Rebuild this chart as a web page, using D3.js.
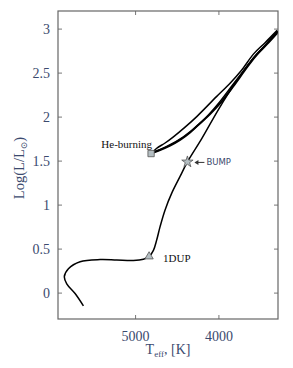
<!DOCTYPE html>
<html>
<head>
<meta charset="utf-8">
<script src="https://cdn.jsdelivr.net/npm/d3@7"></script>
<style>
	body { margin: 0; background: #fff; }
	svg { display: block; }
</style>
</head>
<body>
<div id="chart"></div>
<script>
// Evolutionary track in the HR diagram: [Teff (K), log(L/Lsun)]
var rgbTrack = [
	[5620, -0.15], [5720, -0.01], [5820, 0.10], [5849, 0.18], [5800, 0.27],
	[5660, 0.35], [5420, 0.375], [5220, 0.37], [5020, 0.365], [4900, 0.38],
	[4832, 0.41], [4780, 0.48], [4740, 0.60], [4700, 0.75], [4640, 0.94],
	[4560, 1.13], [4460, 1.32], [4372, 1.485], [4200, 1.75], [4000, 2.08],
	[3800, 2.38], [3600, 2.64], [3420, 2.83], [3290, 2.96]
];
	// descent from the tip to the clump
var flashTrack = [
	[3290, 2.97], [3430, 2.82], [3560, 2.69], [3700, 2.52], [3830, 2.36],
	[4000, 2.15], [4200, 1.94], [4420, 1.77], [4620, 1.66], [4790, 1.59]
];
	// early AGB, lower (thick) bundle
var agbLower = [
	[4790, 1.59], [4700, 1.62], [4580, 1.67], [4460, 1.735], [4340, 1.82],
	[4220, 1.925], [4100, 2.03], [3980, 2.15], [3825, 2.34], [3680, 2.53],
	[3560, 2.68], [3420, 2.82], [3295, 2.95]
];
	// upper loop
var agbUpper = [
	[4790, 1.59], [4740, 1.64], [4640, 1.70], [4540, 1.77], [4400, 1.88],
	[4260, 2.00], [4020, 2.23], [3860, 2.38], [3720, 2.53], [3580, 2.71],
	[3440, 2.84], [3295, 2.98]
];
var marks = [
	{ name: "1DUP", t: 4832, l: 0.41, shape: "triangle" },
	{ name: "BUMP", t: 4372, l: 1.485, shape: "star" },
	{ name: "He-burning", t: 4808, l: 1.58, shape: "square" }
];
var xTicks = [5000, 4000, 3000];
var yTicks = [0, 0.5, 1, 1.5, 2, 2.5, 3];
var xDomain = [5925, 3285];
var yDomain = [-0.3, 3.2];

var W = 293, H = 368;
var m = { l: 58, r: 15, t: 11, b: 49 };
var pw = W - m.l - m.r, ph = H - m.t - m.b;
var ink = "#3b4a6e";
var serif = "'Liberation Serif', 'DejaVu Serif', serif";

var svg = d3.select("#chart").append("svg")
	.attr("width", W).attr("height", H);
var g = svg.append("g")
	.attr("transform", "translate(" + m.l + "," + m.t + ")");

var x = d3.scaleLinear().domain(xDomain).range([0, pw]);
var y = d3.scaleLinear().domain(yDomain).range([ph, 0]);

	// Axes: ticks inward on all four sides
function styleAxis(sel) {
	sel.select(".domain").remove();
	sel.selectAll(".tick line").attr("stroke", "#777").attr("stroke-width", 1);
	sel.selectAll(".tick text").attr("fill", ink)
		.style("font-family", serif).style("font-size", "14px");
}
var xIn = xTicks.filter(function(v) { return v < xDomain[0] && v > xDomain[1]; });
g.append("g").attr("transform", "translate(0," + ph + ")")
	.call(d3.axisBottom(x).tickValues(xIn)
		.tickSizeInner(-4).tickSizeOuter(0).tickPadding(12).tickFormat(d3.format("d")))
	.call(styleAxis);
g.append("g")
	.call(d3.axisTop(x).tickValues(xIn)
		.tickSizeInner(-4).tickSizeOuter(0).tickFormat(""))
	.call(styleAxis);
g.append("g")
	.call(d3.axisLeft(y).tickValues(yTicks).tickSizeInner(-4).tickSizeOuter(0).tickPadding(8)
		.tickFormat(function(d) { return String(d); }))
	.call(styleAxis);
g.append("g").attr("transform", "translate(" + pw + ",0)")
	.call(d3.axisRight(y).tickValues(yTicks).tickSizeInner(-4).tickSizeOuter(0).tickFormat(""))
	.call(styleAxis);

	// Frame
g.append("rect").attr("width", pw).attr("height", ph)
	.attr("fill", "none").attr("stroke", "#666").attr("stroke-width", 1.2);

	// Track
svg.append("clipPath").attr("id", "plotclip")
	.append("rect").attr("width", pw).attr("height", ph);
var line = d3.line()
	.x(function(d) { return x(d[0]); })
	.y(function(d) { return y(d[1]); })
	.curve(d3.curveCatmullRom.alpha(0.5));
var tracks = g.append("g").attr("clip-path", "url(#plotclip)");
[rgbTrack, flashTrack, agbLower, agbUpper].forEach(function(tr, i) {
	tracks.append("path").datum(tr)
		.attr("d", line)
		.attr("fill", "none")
		.attr("stroke", "#000")
		.attr("stroke-width", i === 2 ? 2 : 1.5)
		.attr("stroke-linejoin", "round");
});

	// Markers
var symType = { triangle: d3.symbolTriangle, star: d3.symbolStar, square: d3.symbolSquare };
var symSize = { triangle: 30, star: 40, square: 40 };
g.selectAll(".mark").data(marks).enter().append("path")
	.attr("class", "mark")
	.attr("transform", function(d) { return "translate(" + x(d.t) + "," + y(d.l) + ")"; })
	.attr("d", function(d) { return d3.symbol().type(symType[d.shape]).size(symSize[d.shape])(); })
	.attr("fill", "#b4bec2")
	.attr("stroke", "#555")
	.attr("stroke-width", 0.8);

	// Labels
var dup = marks[0], bump = marks[1], heb = marks[2];
g.append("text").attr("x", x(dup.t) + 14).attr("y", y(dup.l) + 5)
	.style("font-family", serif).style("font-size", "11px").attr("fill", "#111")
	.text("1DUP");
g.append("text").attr("x", x(heb.t) + 1).attr("y", y(heb.l) - 6)
	.attr("text-anchor", "end")
	.style("font-family", serif).style("font-size", "11px").attr("fill", "#111")
	.text("He-burning");
g.append("text").attr("x", x(bump.t) + 19).attr("y", y(bump.l) + 3.5)
	.style("font-family", "'DejaVu Sans', sans-serif").style("font-size", "8.5px").attr("fill", ink)
	.text("BUMP");
	// arrow pointing at the bump
var ax0 = x(bump.t) + 17, ax1 = x(bump.t) + 7, ay = y(bump.l) + 0.5;
g.append("line").attr("x1", ax0).attr("y1", ay).attr("x2", ax1 + 2).attr("y2", ay)
	.attr("stroke", "#333").attr("stroke-width", 1);
g.append("path")
	.attr("d", "M" + ax1 + "," + ay + "L" + (ax1 + 4) + "," + (ay - 2.5) + "L" + (ax1 + 4) + "," + (ay + 2.5) + "Z")
	.attr("fill", "#333");

	// Axis titles
var xt = svg.append("text")
	.attr("x", m.l + pw / 2).attr("y", H - 14)
	.attr("text-anchor", "middle")
	.style("font-family", serif).style("font-size", "14px").attr("fill", ink);
xt.append("tspan").text("T");
xt.append("tspan").attr("dy", 3).style("font-size", "9px").text("eff");
xt.append("tspan").attr("dy", -3).text(", [K]");

var yt = svg.append("text")
	.attr("transform", "translate(24,168) rotate(-90)")
	.attr("text-anchor", "middle")
	.style("font-family", serif).style("font-size", "14.5px").attr("fill", ink);
yt.append("tspan").text("Log(L/L");
yt.append("tspan").attr("dy", 3).style("font-size", "9px").text("\u2299");
yt.append("tspan").attr("dy", -3).text(")");
</script>
</body>
</html>
